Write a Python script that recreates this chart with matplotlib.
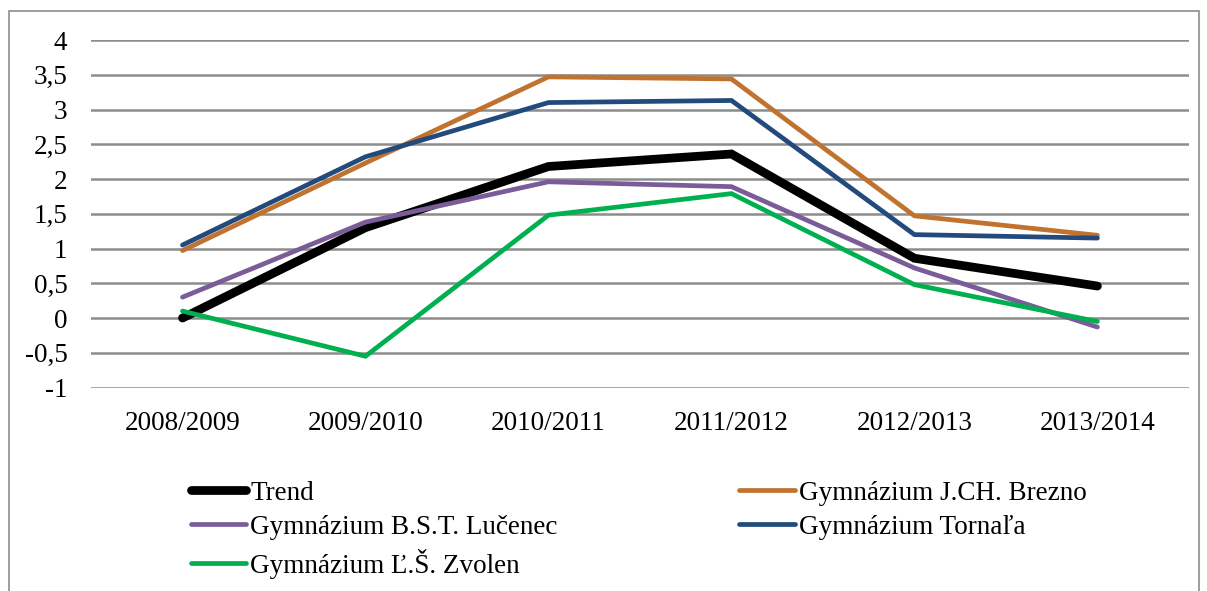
import matplotlib.pyplot as plt
import matplotlib.patches as patches
from matplotlib.ticker import FuncFormatter

# data
years = ["2008/2009", "2009/2010", "2010/2011", "2011/2012", "2012/2013", "2013/2014"]
trend = [0.0, 1.30, 2.18, 2.36, 0.86, 0.46]
brezno = [0.97, 2.23, 3.47, 3.44, 1.47, 1.19]
lucenec = [0.30, 1.38, 1.96, 1.89, 0.72, -0.13]
tornala = [1.05, 2.32, 3.10, 3.13, 1.20, 1.15]
zvolen = [0.10, -0.55, 1.48, 1.79, 0.48, -0.05]

series = [
    ("Trend", trend, "#000000", 6.3),
    ("Gymnázium J.CH. Brezno", brezno, "#C0722F", 3.4),
    ("Gymnázium B.S.T. Lučenec", lucenec, "#7A5C98", 3.4),
    ("Gymnázium Tornaľa", tornala, "#224A7C", 3.4),
    ("Gymnázium Ľ.Š. Zvolen", zvolen, "#00B050", 3.4),
]

plt.rcParams['font.family'] = ['Liberation Serif', 'DejaVu Serif']
fs = 19.5

fig = plt.figure(figsize=(12.07, 5.91), dpi=100)
ax = fig.add_axes([0.0754, 0.3443, 0.9096, 0.588])

lines = {}
for name, vals, col, lw in series:
    ln, = ax.plot(range(len(years)), vals, color=col, linewidth=lw,
                  solid_capstyle='round', solid_joinstyle='miter')
    lines[name] = ln

ax.set_xlim(-0.5, len(years) - 0.5)
ax.set_ylim(-1, 4)
ax.set_yticks([-1 + 0.5 * i for i in range(11)])
ax.yaxis.set_major_formatter(FuncFormatter(lambda v, p: f"{v:g}".replace(".", ",")))
ax.set_xticks(range(len(years)))
ax.set_xticklabels(years)
ax.tick_params(length=0, labelsize=fs, colors='#000000')
ax.tick_params(axis='y', pad=17)
ax.tick_params(axis='x', pad=17)
for s in ax.spines.values():
    s.set_visible(False)
ax.grid(axis='y', color='#8C8C8C', linewidth=1.8)
ax.set_axisbelow(True)

# legend: column-major order gives Trend / Lučenec / Zvolen then Brezno / Tornaľa
order = ["Trend", "Gymnázium B.S.T. Lučenec", "Gymnázium Ľ.Š. Zvolen",
         "Gymnázium J.CH. Brezno", "Gymnázium Tornaľa"]
fig.legend([lines[n] for n in order], order, ncol=2, frameon=False,
           loc='upper left', bbox_to_anchor=(0.149, 0.205),
           fontsize=fs, handlelength=2.05, handletextpad=0.15,
           labelspacing=0.33, columnspacing=6.7, borderaxespad=0)

# outer border of the chart area
fig.patches.append(patches.Rectangle((9 / 1207, -0.01), 1190 / 1207, 1 - 11 / 591 + 0.01,
                                     transform=fig.transFigure, fill=False,
                                     edgecolor='#8C8C8C', linewidth=1.2))

fig.savefig("out.png", dpi=100)
